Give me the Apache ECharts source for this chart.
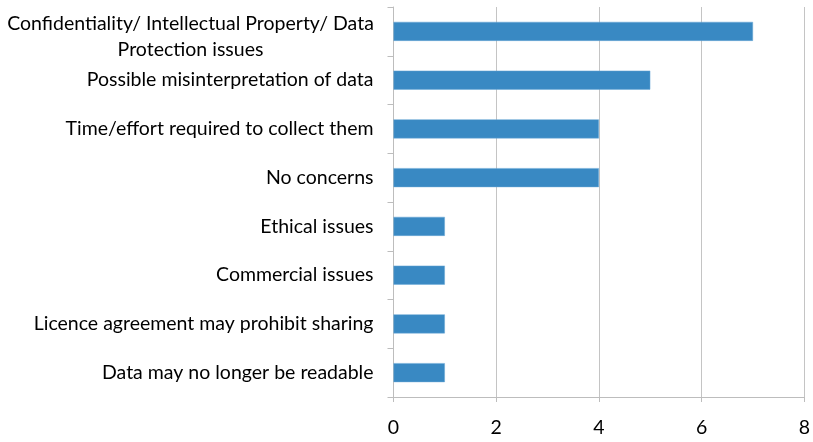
<!DOCTYPE html>
<html>
<head>
<meta charset="utf-8">
<script src="https://cdn.jsdelivr.net/npm/echarts@6/dist/echarts.min.js"></script>
<style>
  html, body { margin: 0; padding: 0; background: #fff; }
  #chart { width: 813px; height: 442px; }
</style>
</head>
<body>
<div id="chart"></div>
<script>
  // categories, top to bottom
  let categories = [
    'Confidentiality/ Intellectual Property/ Data\nProtection issues',
    'Possible misinterpretation of data',
    'Time/effort required to collect them',
    'No concerns',
    'Ethical issues',
    'Commercial issues',
    'Licence agreement may prohibit sharing',
    'Data may no longer be readable'
  ];
  let counts = [7, 5, 4, 4, 1, 1, 1, 1];
  let xTicks = [0, 2, 4, 6, 8];

  let font = 'Lato';
  let fs = 19.5;

  // two-line label gets nudged down a bit, like the original
  let catData = categories.map(function (c) {
    if (c.indexOf('\n') >= 0) {
      return { value: c, textStyle: { padding: [10, 0, 0, 0] } };
    }
    return c;
  });

  let chart = echarts.init(document.getElementById('chart'));
  let option = {
    animation: false,
    grid: {
      left: 393.5,
      right: 6.5,
      top: 7,
      bottom: 45,
      containLabel: false
    },
    xAxis: {
      type: 'value',
      min: xTicks[0],
      max: xTicks[xTicks.length - 1],
      interval: 2,
      axisLine: { show: true, lineStyle: { color: '#bdbdbd', width: 1 } },
      axisTick: { show: true, length: 5, lineStyle: { color: '#bdbdbd' } },
      splitLine: { show: true, lineStyle: { color: '#c4c4c4', width: 1 } },
      axisLabel: {
        margin: 21,
        fontSize: fs,
        color: '#000',
        fontFamily: font
      }
    },
    yAxis: {
      type: 'category',
      inverse: true,
      data: catData,
      axisLine: { show: true, lineStyle: { color: '#bdbdbd', width: 1 } },
      axisTick: { show: true, length: 6, lineStyle: { color: '#bdbdbd' } },
      axisLabel: {
        margin: 20,
        fontSize: fs,
        color: '#000',
        fontFamily: font,
        lineHeight: 26,
        formatter: function (v) {
          if (v.indexOf('\n') >= 0) {
            let parts = v.split('\n');
            return '{w|' + parts[0] + '}\n{w|' + parts[1] + '}';
          }
          return v;
        },
        rich: {
          w: {
            width: 366,
            align: 'center',
            fontSize: fs,
            fontFamily: font,
            color: '#000',
            lineHeight: 26
          }
        }
      }
    },
    series: [
      {
        type: 'bar',
        data: counts,
        barWidth: 19,
        itemStyle: {
          color: '#3989c3',
          borderColor: '#6aa8d6',
          borderWidth: 0.5
        }
      }
    ]
  };
  chart.setOption(option);
</script>
</body>
</html>
